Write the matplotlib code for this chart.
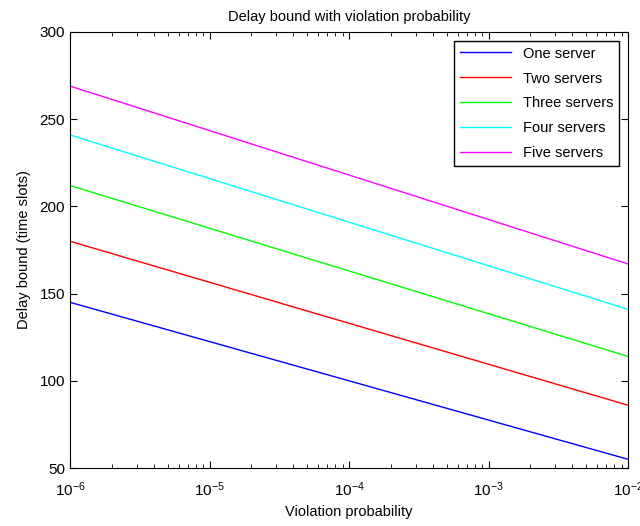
import matplotlib
matplotlib.use("Agg")
import matplotlib.pyplot as plt
import numpy as np

plt.rcParams['font.family'] = ['Liberation Sans', 'DejaVu Sans']
plt.rcParams['mathtext.fontset'] = 'custom'
plt.rcParams['mathtext.rm'] = 'Liberation Sans'
plt.rcParams['mathtext.it'] = 'Liberation Sans'

x_prob = [1e-6, 1e-2]
labels = ["One server", "Two servers", "Three servers", "Four servers", "Five servers"]
one = [145, 55]
two = [180, 86]
three = [212, 114]
four = [241, 141]
five = [269, 167]
series = [one, two, three, four, five]
colors = ["#0000ff", "#ff0000", "#00ff00", "#00ffff", "#ff00ff"]

fig = plt.figure(figsize=(6.4, 5.26), dpi=100)
ax = fig.add_axes([70/640, 1-468/526, (628-70)/640, (468-32)/526])
for s, c, l in zip(series, colors, labels):
    ax.plot(x_prob, s, color=c, lw=1, label=l)
ax.set_xscale("log")
ax.set_xlim(1e-6, 1e-2)
ax.set_ylim(50, 300)
ax.set_yticks([50, 100, 150, 200, 250, 300])
ax.tick_params(direction="in", which="both", top=True, right=True, labelsize=11)
ax.tick_params(axis="x", pad=9)
ax.tick_params(which="major", length=5)
ax.tick_params(which="minor", length=3)
ax.set_title("Delay bound with violation probability", fontsize=10.5, pad=8)
ax.set_xlabel("Violation probability", fontsize=10.5, labelpad=4)
ax.set_ylabel("Delay bound (time slots)", fontsize=10.5, labelpad=6)
leg = ax.legend(loc="upper right", fontsize=10.5, fancybox=False, edgecolor="black",
                framealpha=1, handlelength=3.5, borderaxespad=0.6, labelspacing=0.75)
leg.get_frame().set_linewidth(1)
fig.savefig("out.png", dpi=100)
